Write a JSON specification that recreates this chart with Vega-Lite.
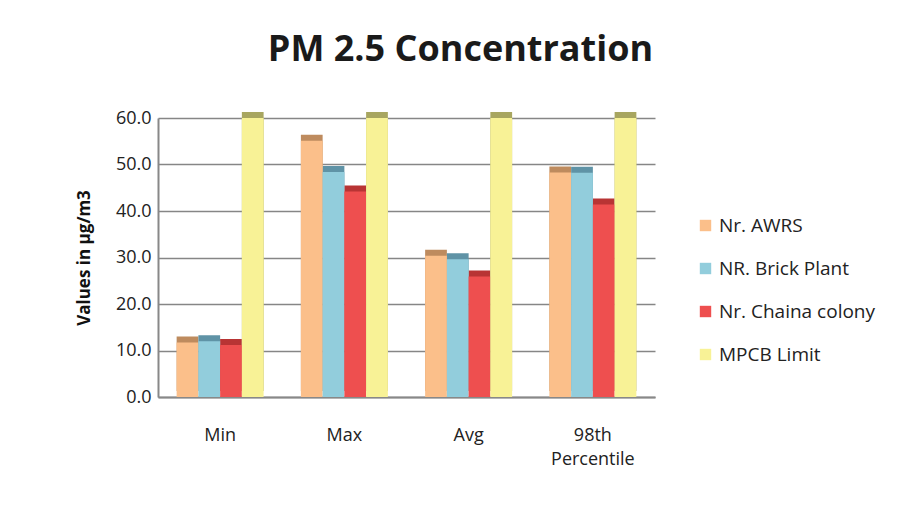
{
  "$schema": "https://vega.github.io/schema/vega-lite/v6.json",
  "autosize": "none",
  "width": 497,
  "height": 279,
  "padding": {"left": 158, "top": 118, "right": 263, "bottom": 108},
  "background": "white",
  "config": {"view": {"stroke": null}, "font": "Open Sans"},
  "title": {"text": "PM 2.5 Concentration", "font": "Open Sans", "fontSize": 36, "fontWeight": "bold", "color": "#1a1a1a", "anchor": "middle", "dx": 54, "offset": 40},
  "data": {"values": [
    {"stat": "Min", "site": "Nr. AWRS", "value": 11.7},
    {"stat": "Min", "site": "NR. Brick Plant", "value": 12.0},
    {"stat": "Min", "site": "Nr. Chaina colony", "value": 11.2},
    {"stat": "Min", "site": "MPCB Limit", "value": 60},
    {"stat": "Max", "site": "Nr. AWRS", "value": 55.1},
    {"stat": "Max", "site": "NR. Brick Plant", "value": 48.4},
    {"stat": "Max", "site": "Nr. Chaina colony", "value": 44.2},
    {"stat": "Max", "site": "MPCB Limit", "value": 60},
    {"stat": "Avg", "site": "Nr. AWRS", "value": 30.4},
    {"stat": "Avg", "site": "NR. Brick Plant", "value": 29.6},
    {"stat": "Avg", "site": "Nr. Chaina colony", "value": 25.9},
    {"stat": "Avg", "site": "MPCB Limit", "value": 60},
    {"stat": "98th Percentile", "site": "Nr. AWRS", "value": 48.3},
    {"stat": "98th Percentile", "site": "NR. Brick Plant", "value": 48.2},
    {"stat": "98th Percentile", "site": "Nr. Chaina colony", "value": 41.4},
    {"stat": "98th Percentile", "site": "MPCB Limit", "value": 60}
  ]},
  "encoding": {
    "x": {"field": "stat", "type": "nominal", "sort": ["Min", "Max", "Avg", "98th Percentile"],
      "scale": {"paddingInner": 0.3, "paddingOuter": 0.15},
      "axis": {"title": null, "labelAngle": 0, "labelFontSize": 18, "labelColor": "#222", "labelPadding": 29, "ticks": false, "domainColor": "#888", "domainWidth": 2,
        "labelExpr": "datum.value == '98th Percentile' ? ['98th', 'Percentile'] : datum.value", "labelLineHeight": 24}},
    "xOffset": {"field": "site", "type": "nominal", "sort": ["Nr. AWRS", "NR. Brick Plant", "Nr. Chaina colony", "MPCB Limit"], "scale": {"paddingInner": 0}},
    "y": {"field": "value", "type": "quantitative", "scale": {"domain": [0, 60]},
      "axis": {"title": "Values in µg/m3", "titleFontSize": 17, "titleFontWeight": "bold", "titleColor": "#111", "titlePadding": 22,
        "format": ".1f", "values": [0, 10, 20, 30, 40, 50, 60], "labelOverlap": false, "labelFontSize": 18, "labelColor": "#222", "labelPadding": 7, "ticks": false,
        "gridColor": "#868686", "gridWidth": 1.5, "domainColor": "#888", "domainWidth": 2}}
  },
  "resolve": {"scale": {"color": "independent"}, "legend": {"color": "independent"}},
  "layer": [
    {
      "mark": {"type": "bar", "xOffset": 6, "yOffset": -6},
      "encoding": {
        "color": {"field": "site", "type": "nominal",
          "scale": {"domain": ["Nr. AWRS", "NR. Brick Plant", "Nr. Chaina colony", "MPCB Limit"], "range": ["#BE8B5E", "#5F93A6", "#B83434", "#A8A660"]},
          "legend": null}
      }
    },
    {
      "mark": {"type": "bar"},
      "encoding": {
        "color": {"field": "site", "type": "nominal",
          "scale": {"domain": ["Nr. AWRS", "NR. Brick Plant", "Nr. Chaina colony", "MPCB Limit"], "range": ["#FBBF8A", "#92CDDC", "#EE4F4F", "#F8F296"]},
          "legend": {"title": null, "orient": "none", "legendX": 538, "legendY": 98, "symbolType": "square", "symbolSize": 130, "symbolStrokeWidth": 0, "labelFontSize": 19, "labelColor": "#222", "rowPadding": 23, "labelOffset": 4}}
      }
    }
  ]
}
